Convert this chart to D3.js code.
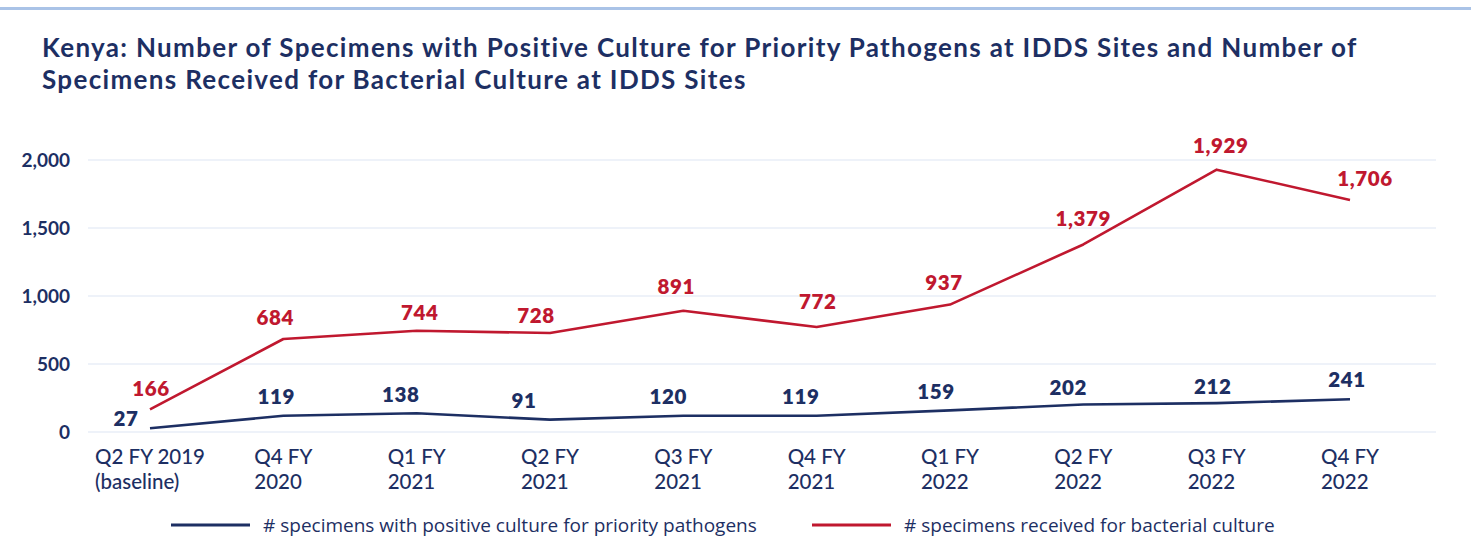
<!DOCTYPE html>
<html>
<head>
<meta charset="utf-8">
<script src="https://cdn.jsdelivr.net/npm/d3@7"></script>
<style>
  html, body { margin: 0; padding: 0; background: #fff; }
  svg { display: block; }
</style>
</head>
<body>
<svg id="chart" width="1471" height="557"></svg>
<script>
// ---------- DATA ----------
const titleLines = [
  "Kenya: Number of Specimens with Positive Culture for Priority Pathogens at IDDS Sites and Number of",
  "Specimens Received for Bacterial Culture at IDDS Sites"
];
const categories = [
  ["Q2 FY 2019", "(baseline)"],
  ["Q4 FY", "2020"],
  ["Q1 FY", "2021"],
  ["Q2 FY", "2021"],
  ["Q3 FY", "2021"],
  ["Q4 FY", "2021"],
  ["Q1 FY", "2022"],
  ["Q2 FY", "2022"],
  ["Q3 FY", "2022"],
  ["Q4 FY", "2022"]
];
const positiveCulture = [27, 119, 138, 91, 120, 119, 159, 202, 212, 241];
const receivedCulture = [166, 684, 744, 728, 891, 772, 937, 1379, 1929, 1706];
const yTicks = [0, 500, 1000, 1500, 2000];
const seriesNames = [
  "# specimens with positive culture for priority pathogens",
  "# specimens received for bacterial culture"
];

// ---------- LAYOUT / STYLE ----------
const navy = "#1d2f63";
const red = "#c0182f";
const gridColor = "#eef2f9";
const font = "Lato, 'Open Sans', sans-serif";

// label nudges (pixels) per point, to avoid overlaps as in the original
const blueLabelDx = [-24, -7, -16, -26, -15, -16, -14, -15, -4, -3];
const blueLabelDy = [-10, -19, -19, -19, -19, -19, -19, -17, -17, -20];
const redLabelDx  = [1, -8, 3, -14, -7, 1, -6, 0, 4, 15];
const redLabelDy  = [-21, -21, -18, -17, -24, -25, -22, -26, -24, -21];

const svg = d3.select("#chart");

// top rule
svg.append("rect").attr("x", 0).attr("y", 7).attr("width", 1471).attr("height", 3).attr("fill", "#aac3e7");

// title
const title = svg.append("g");
const titleSize = 26;
titleLines.forEach((t, i) => {
  title.append("text")
    .attr("x", 42).attr("y", 57 + i * 32)
    .attr("fill", navy)
    .attr("font-family", font)
    .attr("font-weight", 700)
    .attr("font-size", titleSize)
    .text(t);
});
// fit first line width to the original (~1316px) using letter spacing
{
  const n = title.select("text").node();
  const w = n.getComputedTextLength();
  const chars = titleLines[0].length;
  const ls = Math.max(-1, Math.min(2, (1316 - w) / chars));
  title.selectAll("text").attr("letter-spacing", ls);
}

// scales
const x = d3.scalePoint().domain(d3.range(categories.length)).range([150, 1350]);
const y = d3.scaleLinear().domain([0, 2000]).range([432, 160]);

// gridlines
svg.append("g").selectAll("line").data(yTicks).join("line")
  .attr("x1", 88).attr("x2", 1436)
  .attr("y1", d => y(d)).attr("y2", d => y(d))
  .attr("stroke", gridColor).attr("stroke-width", 2);

// y axis labels via d3 axis
const yAxis = d3.axisLeft(y).tickValues(yTicks).tickFormat(d3.format(",")).tickSize(0).tickPadding(0);
const yg = svg.append("g").attr("transform", "translate(70,0)").call(yAxis);
yg.select(".domain").remove();
yg.selectAll("text")
  .attr("fill", navy)
  .attr("font-family", font)
  .attr("font-weight", 700)
  .attr("font-size", 19)
  .attr("dy", "0.36em");

// x axis category labels (two lines, left-aligned block centred on point)
const xg = svg.append("g");
categories.forEach((lines, i) => {
  const g = xg.append("g");
  const texts = lines.map((l, j) => g.append("text")
    .attr("y", 464 + j * 25)
    .attr("fill", navy)
    .attr("font-family", font)
    .attr("font-weight", 500)
    .attr("font-size", 20.5)
    .text(l));
  const w = d3.max(texts, t => t.node().getComputedTextLength());
  texts.forEach(t => t.attr("x", x(i) - w / 2));
});

// lines
const line = d3.line().x((d, i) => x(i)).y(d => y(d));
svg.append("path").datum(receivedCulture)
  .attr("d", line).attr("fill", "none").attr("stroke", red).attr("stroke-width", 2.6).attr("stroke-linejoin", "round");
svg.append("path").datum(positiveCulture)
  .attr("d", line).attr("fill", "none").attr("stroke", navy).attr("stroke-width", 2.6).attr("stroke-linejoin", "round");

// data labels
function labels(data, color, dxs, dys) {
  svg.append("g").selectAll("text").data(data).join("text")
    .attr("x", (d, i) => x(i) + dxs[i])
    .attr("y", (d, i) => y(d) + dys[i])
    .attr("dy", "0.36em")
    .attr("text-anchor", "middle")
    .attr("fill", color)
    .attr("font-family", font)
    .attr("font-weight", 800)
    .attr("font-size", 20.5)
    .attr("letter-spacing", 0.6)
    .text(d3.format(","));
}
labels(receivedCulture, red, redLabelDx, redLabelDy);
labels(positiveCulture, navy, blueLabelDx, blueLabelDy);

// legend
const legendItems = [
  { name: seriesNames[0], color: navy, x0: 171 },
  { name: seriesNames[1], color: red, x0: 812 }
];
const lg = svg.append("g");
legendItems.forEach(it => {
  lg.append("line").attr("x1", it.x0).attr("x2", it.x0 + 79)
    .attr("y1", 525).attr("y2", 525)
    .attr("stroke", it.color).attr("stroke-width", 3);
  lg.append("text").attr("x", it.x0 + 92).attr("y", 525).attr("dy", "0.35em")
    .attr("fill", navy)
    .attr("font-family", "'Open Sans', sans-serif")
    .attr("font-size", 19)
    .text(it.name);
});
</script>
</body>
</html>
